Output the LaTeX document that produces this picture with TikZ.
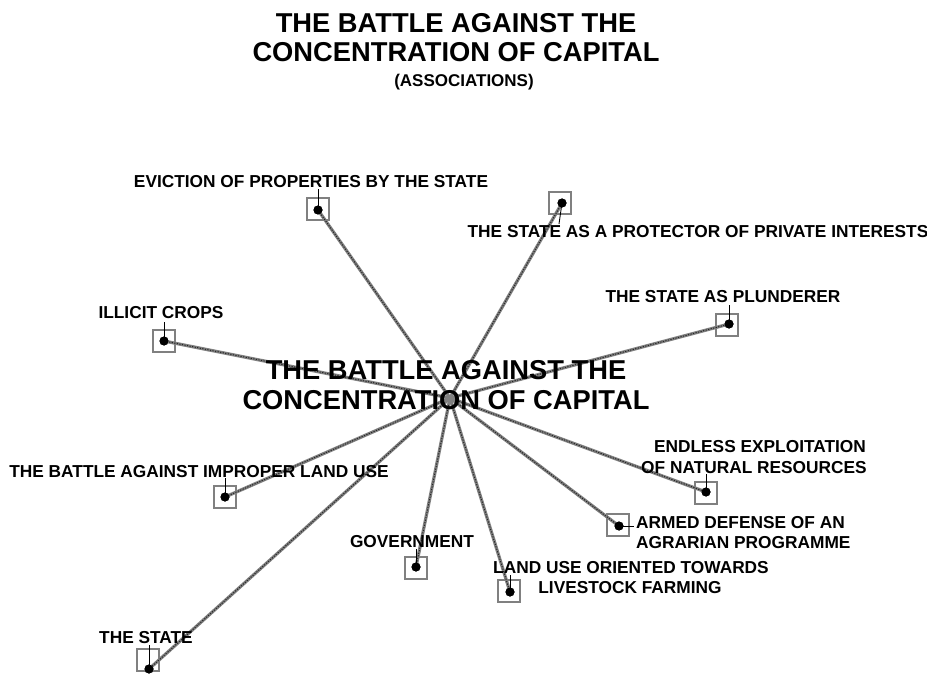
\documentclass[tikz,border=0pt]{standalone}
\usepackage{fontspec}
\setmainfont{Liberation Sans}
\begin{document}
\begin{tikzpicture}[x=1pt,y=-1pt,
  conn/.style={draw=black!50,line width=3.2pt,
    postaction={draw=black!85,line width=1pt,dash pattern=on 1.2pt off 1.4pt,shorten <=7pt}},
  sqbox/.style={draw=black!50,line width=1.3pt,minimum size=22pt,inner sep=0pt,fill=none},
  dotn/.style={circle,fill=black,minimum size=9pt,inner sep=0pt},
  tickline/.style={draw=black,line width=0.9pt},
  lbl/.style={anchor=base,inner sep=0pt,font=\fontsize{17.3}{19}\selectfont\bfseries},
  ttl/.style={anchor=base,inner sep=0pt,font=\fontsize{27.3}{29}\selectfont\bfseries},
  sub/.style={anchor=base,inner sep=0pt,font=\fontsize{17}{18}\selectfont\bfseries}]
\useasboundingbox[fill=white] (0,0) rectangle (927,679);

% title
\node[ttl] (ta) at (456,33) {THE BATTLE AGAINST THE};
\node[ttl] (tb) at (456,62) {CONCENTRATION OF CAPITAL};
\node[sub] (tc) at (464,87) {(ASSOCIATIONS)};

\coordinate (hub) at (450,398);

% squares
\node[sqbox] (s1) at (318,209) {};
\node[sqbox] (s2) at (560,203) {};
\node[sqbox] (s3) at (727,325) {};
\node[sqbox] (s4) at (164,341) {};
\node[sqbox] (s5) at (225,497) {};
\node[sqbox] (s6) at (416,568) {};
\node[sqbox] (s7) at (509,591) {};
\node[sqbox] (s8) at (618,525) {};
\node[sqbox] (s9) at (706,493) {};
\node[sqbox] (s10) at (148,660) {};

% dots
\node[dotn] (d1) at (318,210) {};
\node[dotn] (d2) at (562,203) {};
\node[dotn] (d3) at (729,324) {};
\node[dotn] (d4) at (164,341) {};
\node[dotn] (d5) at (225,497) {};
\node[dotn] (d6) at (416,567) {};
\node[dotn] (d7) at (510,592) {};
\node[dotn] (d8) at (619,526) {};
\node[dotn] (d9) at (706,492) {};
\node[dotn] (d10) at (149,669) {};

% connectors
\foreach \i in {1,...,10} { \draw[conn] (hub) -- (d\i.center); }
\foreach \i in {1,...,10} { \node[dotn] at (d\i) {}; }

% labels
\node[lbl] (t1) at (311,188) {EVICTION OF PROPERTIES BY THE STATE};
\node[lbl] (t2) at (698,238) {THE STATE AS A PROTECTOR OF PRIVATE INTERESTS};
\node[lbl] (t3) at (723,303) {THE STATE AS PLUNDERER};
\node[lbl] (t4) at (161,319) {ILLICIT CROPS};
\node[lbl] (t5) at (199,477) {THE BATTLE AGAINST IMPROPER LAND USE};
\node[lbl] (t6) at (412,547) {GOVERNMENT};
\node[lbl] (t7a) at (631,573) {LAND USE ORIENTED TOWARDS};
\node[lbl] (t7b) at (630,593) {LIVESTOCK FARMING};
\node[lbl,anchor=base west] (t8a) at (636,528) {ARMED DEFENSE OF AN};
\node[lbl,anchor=base west] (t8b) at (636,548) {AGRARIAN PROGRAMME};
\node[lbl] (t9a) at (760,452) {ENDLESS EXPLOITATION};
\node[lbl] (t9b) at (754,473) {OF NATURAL RESOURCES};
\node[lbl] (t10) at (146,643) {THE STATE};

% ticks
\coordinate (k1) at (318,189);
\coordinate (k2) at (559,224);
\coordinate (k3) at (729,305);
\coordinate (k4) at (164,322);
\coordinate (k5) at (225,478);
\coordinate (k6) at (416,549);
\coordinate (k7) at (510,575);
\coordinate (k8) at (634,526);
\coordinate (k9) at (706,474);
\coordinate (k10) at (149,645);
\foreach \i in {1,...,10} { \draw[tickline] (d\i.center) -- (k\i); }

% centre label
\node[ttl] (ca) at (446,379) {THE BATTLE AGAINST THE};
\node[ttl] (cb) at (446,409) {CONCENTRATION OF CAPITAL};
\end{tikzpicture}
\end{document}
